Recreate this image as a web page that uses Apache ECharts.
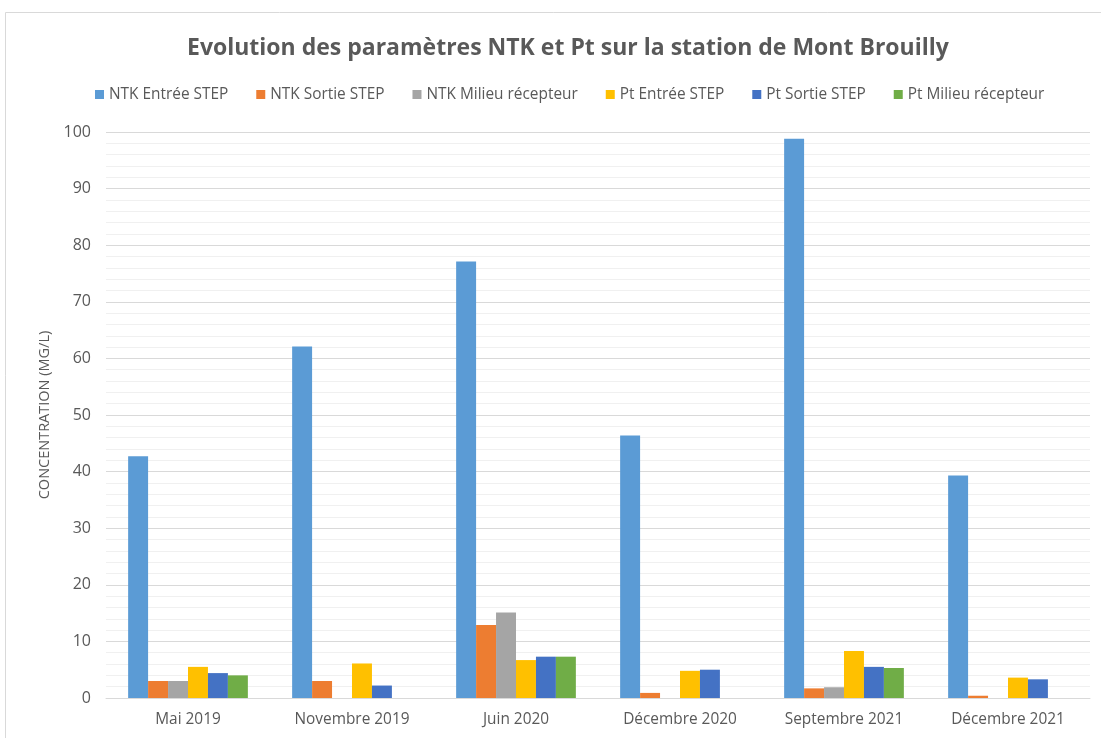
<!DOCTYPE html>
<html>
<head>
<meta charset="utf-8">
<script src="https://cdn.jsdelivr.net/npm/echarts@6/dist/echarts.min.js"></script>
<style>
  html, body { margin: 0; padding: 0; background: #ffffff; }
  #chart { width: 1101px; height: 738px; }
</style>
</head>
<body>
<div id="chart"></div>
<script>
// Sampling campaigns
const campaigns = ['Mai 2019', 'Novembre 2019', 'Juin 2020', 'Décembre 2020', 'Septembre 2021', 'Décembre 2021'];

// Concentrations in mg/L (null = not measured)
const ntkEntree = [42.7, 62.1, 77.1, 46.4, 98.8, 39.3];
const ntkSortie = [3.0, 3.0, 12.9, 0.9, 1.7, 0.4];
const ntkMilieu = [3.0, null, 15.1, null, 1.9, null];
const ptEntree  = [5.5, 6.1, 6.7, 4.8, 8.3, 3.6];
const ptSortie  = [4.4, 2.2, 7.3, 5.0, 5.5, 3.3];
const ptMilieu  = [4.0, null, 7.3, null, 5.3, null];

const seriesDefs = [
  { name: 'NTK Entrée STEP', data: ntkEntree, color: '#5B9BD5' },
  { name: 'NTK Sortie STEP', data: ntkSortie, color: '#ED7D31' },
  { name: 'NTK Milieu récepteur', data: ntkMilieu, color: '#A5A5A5' },
  { name: 'Pt Entrée STEP', data: ptEntree, color: '#FFC000' },
  { name: 'Pt Sortie STEP', data: ptSortie, color: '#4472C4' },
  { name: 'Pt Milieu récepteur', data: ptMilieu, color: '#70AD47' }
];

const textColor = '#595959';
const font = 'Open Sans';

const chart = echarts.init(document.getElementById('chart'), null, { renderer: 'canvas' });

chart.setOption({
  backgroundColor: '#ffffff',
  animation: false,
  graphic: [{
    type: 'rect',
    shape: { x: 5.5, y: 12.5, width: 1200, height: 800 },
    style: { fill: 'none', stroke: '#d9d9d9', lineWidth: 1 },
    silent: true,
    z: -10
  }],
  title: {
    text: 'Evolution des paramètres NTK et Pt sur la station de Mont Brouilly',
    left: 182,
    top: 32,
    textStyle: { fontFamily: font, fontSize: 23, fontWeight: 'bold', color: textColor }
  },
  legend: {
    top: 82,
    left: 90,
    itemWidth: 9,
    itemHeight: 9,
    itemGap: 28,
    icon: 'rect',
    textStyle: { fontFamily: font, fontSize: 15.4, color: textColor }
  },
  grid: { left: 106, right: 11, top: 132, bottom: 40, containLabel: false },
  xAxis: {
    type: 'category',
    data: campaigns,
    axisLine: { show: true, lineStyle: { color: '#d9d9d9', width: 1 } },
    axisTick: { show: false },
    axisLabel: { fontFamily: font, fontSize: 15.4, color: textColor, margin: 14 }
  },
  yAxis: {
    type: 'value',
    min: 0,
    max: 100,
    interval: 10,
    name: 'CONCENTRATION (MG/L)',
    nameLocation: 'middle',
    nameGap: 47,
    nameTextStyle: { fontFamily: font, fontSize: 14.5, color: textColor },
    axisLine: { show: false },
    axisTick: { show: false },
    axisLabel: { fontFamily: font, fontSize: 16, color: textColor, margin: 15 },
    splitLine: { show: true, lineStyle: { color: '#d9d9d9', width: 1 } },
    minorTick: { show: false, splitNumber: 5 },
    minorSplitLine: { show: true, lineStyle: { color: '#f0f0f0', width: 1 } }
  },
  series: seriesDefs.map(s => ({
    type: 'bar',
    name: s.name,
    data: s.data,
    barGap: '0%',
    barCategoryGap: '27%',
    itemStyle: { color: s.color },
    emphasis: { disabled: true }
  }))
});
</script>
</body>
</html>
